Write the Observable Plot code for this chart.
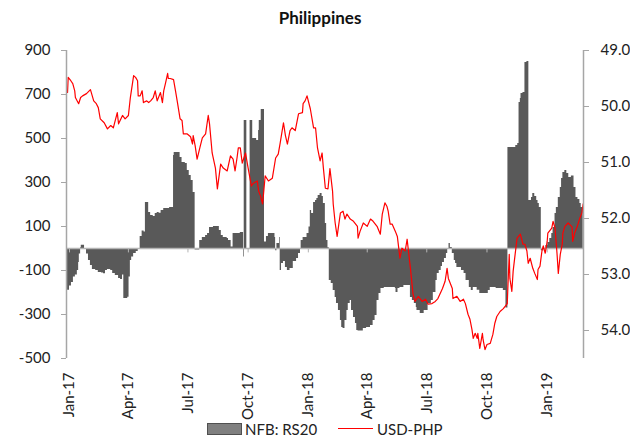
<!DOCTYPE html>
<html>
<head>
<meta charset="utf-8">
<script src="https://cdn.jsdelivr.net/npm/d3@7"></script>
<script src="https://cdn.jsdelivr.net/npm/@observablehq/plot@0.6"></script>
<style>
  body { margin: 0; background: #fff; font-family: Lato, "Open Sans", sans-serif; }
  #wrap { width: 630px; height: 441px; position: relative; overflow: hidden; }
  #title { height: 35px; line-height: 36px; text-align: center; font-weight: bold; font-size: 17px; color: #111; padding-left: 10px; box-sizing: border-box; }
  #chart { height: 385px; }
  .lg { position: absolute; font-size: 15px; color: #222; line-height: 17px; top: 421px; }
</style>
</head>
<body>
<div id="wrap">
  <div id="title">Philippines</div>
  <div id="chart"></div>
  <div class="lg" style="left:207px;top:423px;width:33px;height:10px;background:#808080;border:1px solid #505050;"></div>
  <div class="lg" style="left:245px;">NFB: RS20</div>
  <div class="lg" style="left:338px;top:428px;width:35px;height:0;border-top:1.5px solid #ff0000;"></div>
  <div class="lg" style="left:377px;">USD-PHP</div>
</div>
<script>
// ---------- data ----------
const seriesBarName = "NFB: RS20";
const seriesLineName = "USD-PHP";

const leftTicks = [-500, -300, -100, 100, 300, 500, 700, 900];
const rightTicks = [49, 50, 51, 52, 53, 54];
const xTickDates = ["2017-01-01","2017-04-01","2017-07-01","2017-10-01","2018-01-01","2018-04-01","2018-07-01","2018-10-01","2019-01-01"];

// NFB: RS20 (bar runs: value holds from barDates[i] to barDates[i+1])
const barDates = [
"2016-12-29","2017-01-01","2017-01-04","2017-01-07","2017-01-10","2017-01-13","2017-01-15","2017-01-16","2017-01-18","2017-01-19",
"2017-01-24","2017-01-27","2017-01-30","2017-02-02","2017-02-05","2017-02-10","2017-02-14","2017-02-19","2017-02-22","2017-02-25",
"2017-02-28","2017-03-05","2017-03-08","2017-03-12","2017-03-17","2017-03-20","2017-03-23","2017-03-25","2017-03-31","2017-04-02",
"2017-04-04","2017-04-06","2017-04-09","2017-04-13","2017-04-16","2017-04-19","2017-04-22","2017-04-25","2017-04-27","2017-05-02",
"2017-05-05","2017-05-09","2017-05-12","2017-05-15","2017-05-18","2017-05-21","2017-05-25","2017-06-03","2017-06-09","2017-06-10",
"2017-06-19","2017-06-22","2017-06-27","2017-06-30","2017-07-03","2017-07-06","2017-07-09","2017-07-12","2017-07-19","2017-07-23",
"2017-07-28","2017-07-31","2017-08-03","2017-08-09","2017-08-18","2017-08-21","2017-08-24","2017-08-30","2017-09-01","2017-09-05",
"2017-09-08","2017-09-19","2017-09-24","2017-09-25","2017-09-29","2017-10-04","2017-10-08","2017-10-14","2017-10-17","2017-10-18",
"2017-10-21","2017-10-26","2017-10-29","2017-11-01","2017-11-11","2017-11-12","2017-11-14","2017-11-18","2017-11-19","2017-11-21",
"2017-11-24","2017-11-27","2017-11-30","2017-12-04","2017-12-09","2017-12-14","2017-12-17","2017-12-20","2017-12-21","2017-12-24",
"2017-12-30","2018-01-02","2018-01-04","2018-01-06","2018-01-09","2018-01-12","2018-01-14","2018-01-16","2018-01-19","2018-01-22",
"2018-01-24","2018-01-27","2018-01-29","2018-01-31","2018-02-02","2018-02-05","2018-02-08","2018-02-11","2018-02-13","2018-02-16",
"2018-02-19","2018-02-21","2018-02-23","2018-02-26","2018-03-01","2018-03-03","2018-03-06","2018-03-08","2018-03-11","2018-03-14",
"2018-03-16","2018-03-18","2018-03-26","2018-03-31","2018-04-06","2018-04-10","2018-04-13","2018-04-16","2018-04-19","2018-04-22",
"2018-04-27","2018-05-14","2018-05-15","2018-05-18","2018-05-21","2018-05-27","2018-06-06","2018-06-09","2018-06-12","2018-06-15",
"2018-06-16","2018-06-21","2018-06-27","2018-07-03","2018-07-08","2018-07-11","2018-07-15","2018-07-17","2018-07-20","2018-07-23",
"2018-07-25","2018-07-28","2018-07-31","2018-08-02","2018-08-04","2018-08-06","2018-08-09","2018-08-12","2018-08-14","2018-08-16",
"2018-08-23","2018-08-27","2018-08-30","2018-09-04","2018-09-07","2018-09-10","2018-09-16","2018-09-20","2018-10-03","2018-10-06",
"2018-10-15","2018-10-26","2018-10-30","2018-11-02","2018-11-14","2018-11-17","2018-11-19","2018-11-21","2018-11-22","2018-11-25",
"2018-11-28","2018-12-01","2018-12-04","2018-12-08","2018-12-10","2018-12-13","2018-12-16","2018-12-18","2018-12-20","2018-12-23",
"2018-12-27","2018-12-30","2019-01-02","2019-01-05","2019-01-08","2019-01-10","2019-01-13","2019-01-15","2019-01-18","2019-01-21",
"2019-01-23","2019-01-25","2019-01-28","2019-01-31","2019-02-03","2019-02-07","2019-02-11","2019-02-14","2019-02-17","2019-02-20",
"2019-02-22","2019-02-25"
];
const barValues = [
-190,-170,-155,-130,-120,-100,-64,-25,3,15,
0,-25,-55,-77,-95,-100,-109,-111,-115,-100,
-95,-100,-114,-123,-136,-141,-120,-227,-222,-130,
-55,-39,-23,-14,-5,55,80,75,209,164,
150,145,159,164,160,173,182,186,423,436,
414,391,386,355,332,309,255,-7,36,50,
59,68,95,100,82,59,50,45,36,7,
68,73,-39,582,0,582,500,491,536,582,
632,30,55,68,50,-10,23,50,-100,-68,
-59,-86,-100,-91,-59,-45,-23,0,36,50,
68,98,173,159,209,218,227,241,250,236,
205,114,36,3,-145,-159,-191,-223,-250,-282,
-327,-359,-364,-327,-282,-250,-236,-282,-314,-341,
-373,-375,-364,-359,-350,-327,-305,-236,-205,-182,
-177,-182,-200,-182,-177,-168,-223,-236,-250,-268,
-282,-295,-282,-250,-236,-200,-145,-114,-100,-82,
-64,-45,-23,0,23,5,-23,-55,-68,-86,
-100,-114,-145,-177,-191,-177,-190,-205,-191,-177,
-182,-191,-270,459,468,477,664,682,705,709,
845,850,218,232,250,236,218,205,186,-10,
0,14,27,45,68,95,159,186,232,277,
318,345,355,341,323,330,277,232,223,205,
186
];

// USD-PHP (right axis, inverted)
const lineDates = [
"2016-12-29","2016-12-30","2017-01-03","2017-01-06","2017-01-09","2017-01-10","2017-01-15","2017-01-18","2017-01-21","2017-01-27",
"2017-02-02","2017-02-07","2017-02-11","2017-02-14","2017-02-17","2017-02-23","2017-02-28","2017-03-05","2017-03-09","2017-03-15",
"2017-03-17","2017-03-23","2017-03-27","2017-04-01","2017-04-04","2017-04-09","2017-04-12","2017-04-15","2017-04-16","2017-04-19",
"2017-04-22","2017-04-24","2017-04-29","2017-05-02","2017-05-05","2017-05-09","2017-05-12","2017-05-15","2017-05-20","2017-05-23",
"2017-05-25","2017-05-28","2017-05-31","2017-06-01","2017-06-04","2017-06-09","2017-06-12","2017-06-15","2017-06-19","2017-06-22",
"2017-06-24","2017-06-30","2017-07-05","2017-07-08","2017-07-09","2017-07-12","2017-07-15","2017-07-20","2017-07-23","2017-07-28",
"2017-08-01","2017-08-03","2017-08-07","2017-08-12","2017-08-15","2017-08-20","2017-08-24","2017-08-30","2017-09-04","2017-09-08",
"2017-09-11","2017-09-14","2017-09-16","2017-09-19","2017-09-22","2017-09-27","2017-10-01","2017-10-06","2017-10-09","2017-10-15",
"2017-10-17","2017-10-20","2017-10-23","2017-10-24","2017-10-27","2017-11-01","2017-11-07","2017-11-12","2017-11-16","2017-11-19",
"2017-11-24","2017-11-27","2017-11-30","2017-12-04","2017-12-07","2017-12-12","2017-12-17","2017-12-23","2017-12-24","2017-12-27",
"2017-12-30","2018-01-04","2018-01-09","2018-01-12","2018-01-15","2018-01-19","2018-01-22","2018-01-24","2018-01-27","2018-01-31",
"2018-02-03","2018-02-07","2018-02-08","2018-02-11","2018-02-14","2018-02-19","2018-02-23","2018-02-26","2018-03-01","2018-03-06",
"2018-03-11","2018-03-17","2018-03-18","2018-03-21","2018-03-26","2018-04-01","2018-04-06","2018-04-10","2018-04-16","2018-04-21",
"2018-04-24","2018-04-28","2018-05-01","2018-05-03","2018-05-06","2018-05-09","2018-05-14","2018-05-17","2018-05-21","2018-05-24",
"2018-05-29","2018-06-01","2018-06-03","2018-06-06","2018-06-10","2018-06-13","2018-06-18","2018-06-24","2018-06-29","2018-07-03",
"2018-07-09","2018-07-14","2018-07-18","2018-07-25","2018-07-29","2018-08-01","2018-08-03","2018-08-09","2018-08-10","2018-08-16",
"2018-08-21","2018-08-26","2018-08-29","2018-09-02","2018-09-05","2018-09-08","2018-09-10","2018-09-13","2018-09-16","2018-09-17",
"2018-09-20","2018-09-24","2018-09-25","2018-09-28","2018-10-01","2018-10-06","2018-10-10","2018-10-13","2018-10-16","2018-10-21",
"2018-10-26","2018-11-01","2018-11-02","2018-11-04","2018-11-05","2018-11-08","2018-11-10","2018-11-13","2018-11-16","2018-11-21",
"2018-11-25","2018-11-28","2018-12-01","2018-12-03","2018-12-06","2018-12-10","2018-12-13","2018-12-17","2018-12-18","2018-12-21",
"2018-12-24","2018-12-26","2018-12-29","2019-01-01","2019-01-02","2019-01-08","2019-01-10","2019-01-13","2019-01-16","2019-01-18",
"2019-01-21","2019-01-24","2019-01-25","2019-01-28","2019-02-02","2019-02-08","2019-02-09","2019-02-12","2019-02-16","2019-02-20",
"2019-02-23","2019-02-25"
];
const lineValues = [
49.75,49.48,49.54,49.59,49.72,49.84,49.95,49.84,49.81,49.77,
49.70,49.90,49.95,50.02,50.22,50.29,50.40,50.34,50.38,50.11,
50.31,50.16,50.22,50.16,49.84,49.45,49.48,49.54,49.81,49.81,
49.72,49.93,49.90,49.93,49.90,49.84,49.72,49.90,49.75,49.93,
49.72,49.57,49.41,49.50,49.50,49.52,49.72,49.93,50.22,50.25,
50.49,50.49,50.54,50.67,50.52,50.70,50.94,50.70,50.56,50.49,
50.16,50.31,50.83,51.10,51.47,51.03,51.10,51.15,50.88,50.94,
51.15,50.92,50.74,50.74,51.01,50.83,51.10,51.42,51.37,51.33,
51.51,51.60,51.74,51.63,51.24,51.33,51.28,50.92,50.85,50.65,
50.29,50.52,50.67,50.43,50.38,50.43,50.13,50.11,49.95,49.90,
49.81,50.04,50.38,50.38,50.74,50.97,50.83,51.10,51.46,51.47,
51.11,51.51,51.74,52.08,52.32,51.90,51.87,52.01,51.92,52.01,
52.05,52.14,52.35,52.23,52.08,52.14,52.01,52.05,52.14,52.28,
51.92,51.72,51.78,51.87,52.10,52.10,52.23,52.32,52.71,52.53,
52.58,52.37,52.58,52.89,53.35,53.48,53.39,53.48,53.44,53.53,
53.52,53.48,53.43,53.25,53.12,52.89,53.07,53.25,53.43,53.39,
53.48,53.44,53.52,53.71,53.80,53.98,54.14,54.05,54.14,54.05,
54.32,54.05,54.16,54.34,54.25,54.23,54.07,53.87,53.75,53.66,
53.61,53.52,53.21,52.64,53.07,53.30,52.94,52.64,52.35,52.28,
52.46,52.46,52.58,52.80,52.71,52.89,52.98,53.09,52.91,52.85,
52.58,52.49,52.62,52.41,52.26,52.17,52.05,52.17,52.62,52.98,
52.64,52.46,52.26,52.14,52.08,52.15,52.41,52.26,52.14,51.99,
51.90,51.74
];

// ---------- chart ----------
const leftMin = -500, leftMax = 900, rightBottom = 54.5, rightTop = 49;
const toLeft = r => leftMin + (rightBottom - r) * (leftMax - leftMin) / (rightBottom - rightTop);
const fromLeft = v => rightBottom - (v - leftMin) * (rightBottom - rightTop) / (leftMax - leftMin);

const xStart = new Date("2016-12-27T10:00:00Z");
const xEnd = new Date("2019-02-25T12:00:00Z");

// step profile: each value holds until the next date; the last date closes the final run
const barSteps = barDates.map((d, i) => ({date: new Date(d), v: i < barValues.length ? barValues[i] : barValues[barValues.length - 1]}));
const line = lineDates.map((d, i) => ({date: new Date(d), r: lineValues[i]}));
const xTicks = xTickDates.map(d => new Date(d));

const chart = Plot.plot({
  width: 630,
  height: 385,
  marginLeft: 66,
  marginRight: 47,
  marginTop: 15,
  marginBottom: 62,
  style: {fontFamily: "Lato, 'Open Sans', sans-serif", fontSize: "15px", color: "#222", background: "#fff"},
  x: {type: "utc", domain: [xStart, xEnd]},
  y: {domain: [leftMin, leftMax]},
  marks: [
    Plot.areaY(barSteps, {x: "date", y: "v", curve: "step-after", fill: "#595959"}),
    Plot.ruleY([0], {stroke: "#b4b4b4", strokeWidth: 1.3}),
    Plot.ruleX(xTicks, {y1: 0, y2: -20, stroke: "#b4b4b4"}),
    Plot.line(line, {x: "date", y: d => toLeft(d.r), stroke: "#ff0000", strokeWidth: 1.2}),
    Plot.ruleX([xStart], {stroke: "#a6a6a6", strokeWidth: 1.5}),
    Plot.ruleX([xEnd], {stroke: "#a6a6a6", strokeWidth: 1.5}),
    Plot.axisY(leftTicks, {anchor: "left", tickSize: 5, tickPadding: 11, stroke: "#a6a6a6", fill: "#222", tickFormat: d => String(d), label: null}),
    Plot.axisY(rightTicks.map(toLeft), {anchor: "right", tickSize: 5, tickPadding: 12, stroke: "#a6a6a6", fill: "#222", tickFormat: v => fromLeft(v).toFixed(1), label: null}),
    Plot.axisX(xTicks, {anchor: "bottom", tickSize: 0, tickPadding: 14, tickRotate: -90, fill: "#222", tickFormat: d3.utcFormat("%b-%y"), label: null})
  ]
});
document.getElementById("chart").appendChild(chart);
</script>
</body>
</html>
